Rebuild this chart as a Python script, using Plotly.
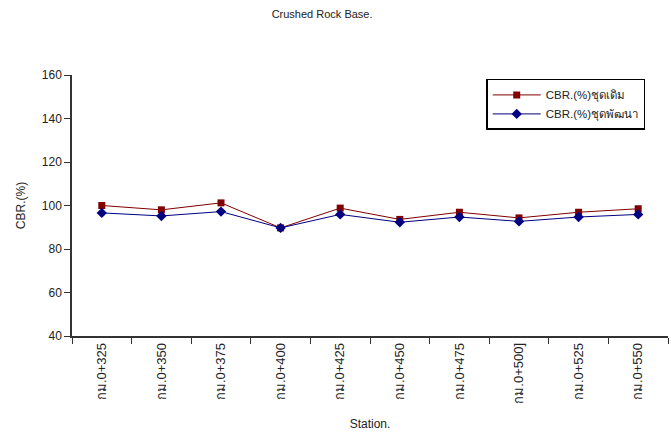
import plotly.graph_objects as go

stations = ["กม.0+325", "กม.0+350", "กม.0+375", "กม.0+400", "กม.0+425",
            "กม.0+450", "กม.0+475", "กม.0+500]", "กม.0+525", "กม.0+550"]
cbr_original = [100.0, 98.0, 101.2, 89.7, 98.8, 93.6, 96.9, 94.3, 96.9, 98.5]
cbr_improved = [96.6, 95.2, 97.2, 89.7, 95.9, 92.3, 94.7, 92.7, 94.7, 95.9]

FONT = "Liberation Sans, Arial, sans-serif"

fig = go.Figure()
fig.add_trace(go.Scatter(
    x=stations, y=cbr_original, name="CBR.(%)ชุดเดิม",
    mode="lines+markers",
    line=dict(color="#800000", width=1),
    marker=dict(symbol="square", size=7, color="#800000"),
))
fig.add_trace(go.Scatter(
    x=stations, y=cbr_improved, name="CBR.(%)ชุดพัฒนา",
    mode="lines+markers",
    line=dict(color="#000080", width=1),
    marker=dict(symbol="diamond", size=8, color="#000080"),
))

fig.update_layout(
    width=671, height=433,
    margin=dict(l=72, r=3, t=75, b=97),
    paper_bgcolor="white", plot_bgcolor="white",
    font=dict(family=FONT, size=11, color="#222"),
    title=dict(text="Crushed Rock Base.", x=0.48, xanchor="center",
               y=0.968, yanchor="middle", font=dict(size=11, family=FONT)),
    legend=dict(x=0.695, y=0.985, xanchor="left", yanchor="top",
                bordercolor="black", borderwidth=1.5, bgcolor="white",
                font=dict(size=11.5, family=FONT), tracegroupgap=0,
                itemwidth=48),
    showlegend=True,
)
fig.update_xaxes(
    type="category", range=[-0.5, 9.5],
    showline=True, linecolor="#333", linewidth=1.5,
    ticks="outside", tickson="boundaries", ticklen=6, tickcolor="#333",
    tickangle=-90, showgrid=False, zeroline=False,
    tickfont=dict(size=13, family=FONT),
    title=dict(text="Station.", font=dict(size=12, family=FONT), standoff=17),
)
fig.update_yaxes(
    range=[40, 160], dtick=20,
    showline=True, linecolor="#333", linewidth=1.5,
    ticks="outside", ticklen=6, tickcolor="#333",
    showgrid=False, zeroline=False,
    tickfont=dict(size=12, family=FONT),
    title=dict(text="CBR.(%)", font=dict(size=12, family=FONT), standoff=14),
)

fig.write_html("out.html")
